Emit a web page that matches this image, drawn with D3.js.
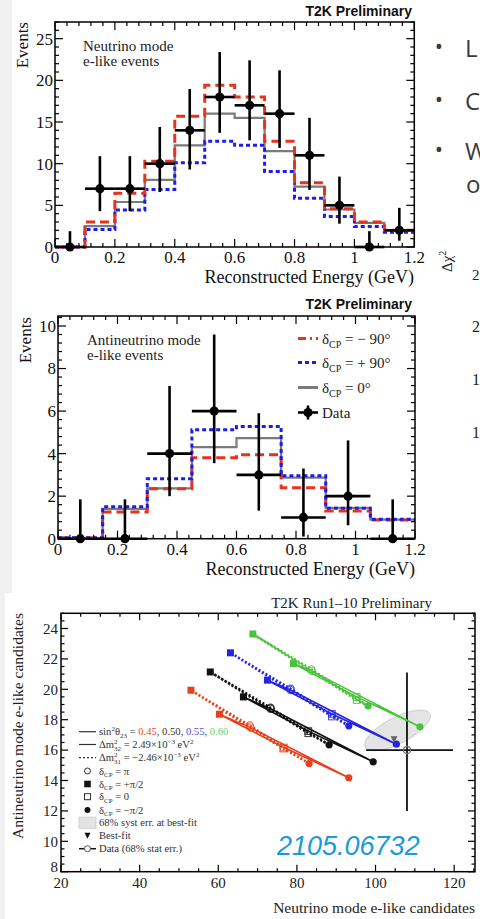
<!DOCTYPE html>
<html><head><meta charset="utf-8">
<script src="https://cdn.jsdelivr.net/npm/d3@7"></script>
<style>html,body{margin:0;padding:0;background:#fff;} svg{display:block}</style>
</head><body>
<script>
// ---------- Panel 1: neutrino mode e-like ----------
const nuEdges = [0,0.1,0.2,0.3,0.4,0.5,0.6,0.7,0.8,0.9,1.0,1.1,1.2];
const nuMinus90 = [0,3.0,6.45,10.3,15.7,19.4,18.0,12.7,7.7,4.6,3.0,2.0];
const nuPlus90  = [0,2.1,4.45,6.9,10.1,12.7,12.2,9.05,5.85,3.65,2.45,1.76];
const nuZero    = [0,2.5,5.4,8.05,12.2,16.0,15.5,11.5,7.25,4.5,2.9,2.0];
const nuData    = [0,7,7,10,14,18,17,16,11,5,0,2];
const nuDataLo  = [0,4.3,4.3,6.6,9.3,13.7,12.8,11.9,6.85,2.8,0,0.76];
const nuDataHi  = [1.9,10.9,10.9,14.4,18.95,23.4,22.4,21.2,15.5,8.45,1.9,4.7];
const nuXTicks = [0,0.2,0.4,0.6,0.8,1,1.2];
const nuYTicks = [0,5,10,15,20,25];

// ---------- Panel 2: antineutrino mode e-like ----------
const anuEdges = [0,0.15,0.3,0.45,0.6,0.75,0.9,1.05,1.2];
const anuMinus90 = [0.05,1.25,2.35,3.8,3.95,2.4,1.3,0.88];
const anuPlus90  = [0.05,1.5,2.82,5.12,5.28,2.96,1.43,0.91];
const anuZero    = [0.03,1.4,2.37,4.31,4.73,2.87,1.45,0.9];
const anuData    = [0,0,4,6,3,1,2,0];
const anuDataLo  = [0,0,2.0,3.55,1.32,0.1,0.63,0];
const anuDataHi  = [1.85,1.85,7.18,9.6,5.9,3.3,4.62,1.85];
const anuXTicks = [0,0.2,0.4,0.6,0.8,1,1.2];
const anuYTicks = [0,2,4,6,8,10];

// ---------- Panel 3: bi-probability ----------
// points per sin^2(theta23): [dCP=-pi/2, dCP=0, dCP=+pi/2, dCP=pi] as [nu, antinu]
const th23Labels = ["0.45","0.50","0.55","0.60"];
const th23Colors = ["#e8401c","#111111","#2525e0","#48c23a"];
const normalOrdering = [
  [[93.2,14.18],[76.7,16.17],[60.3,18.36],[68.2,17.48]],
  [[99.4,15.23],[82.9,17.25],[66.4,19.5],[73.3,18.72]],
  [[105.3,16.39],[88.9,18.38],[72.5,20.6],[78.4,19.95]],
  [[111.3,17.53],[95.2,19.5],[79.1,21.69],[83.7,21.21]]
];
const invertedOrdering = [
  [[83.1,15.12],[76.5,16.10],[53.05,19.94],[68.0,17.62]],
  [[88.2,16.35],[82.9,17.11],[57.97,21.14],[73.3,18.79]],
  [[93.2,17.6],[88.9,18.21],[63.1,22.4],[78.4,20.04]],
  [[98.1,18.9],[95.2,19.29],[68.8,23.64],[83.7,21.31]]
];
const obsData = [108, 16];
const obsXErr = [97.6, 119.7];
const obsYErr = [12.0, 21.1];
const bestFit = [104.7, 16.72];
const systCenter = [105.6, 17.3];
const systAxisA = [8.2, 1.1];
const systAxisB = [1.52, -0.76];
const biXTicks = [20,40,60,80,100,120];
const biYTicks = [8,10,12,14,16,18,20,22,24];

// ---------- drawing ----------
const serif = "'Liberation Serif','Times New Roman',serif";
const sans = "'Liberation Sans',Arial,sans-serif";
const svg = d3.select("body").append("svg").attr("width",480).attr("height",919);

svg.append("rect").attr("x",0).attr("y",0).attr("width",480).attr("height",919).attr("fill","#f1f1f1");
svg.append("rect").attr("x",12).attr("y",0).attr("width",468).attr("height",593).attr("fill","#fff");
svg.append("rect").attr("x",5).attr("y",593).attr("width",475).attr("height",326).attr("fill","#fff");

function frame(g, x, y, xTicks, xMinor, yTicks, yMinor, maj, min) {
  const [x0,x1] = x.range(), [y0,y1] = y.range();
  const t = g.append("g").attr("stroke","#000").attr("stroke-width",1.2);
  const xd = x.domain(), yd = y.domain();
  const xm = d3.range(xd[0], xd[1]+1e-9, xMinor).filter(v => !xTicks.some(M => Math.abs(M-v)<1e-6));
  const ym = d3.range(yd[0], yd[1]+1e-9, yMinor).filter(v => !yTicks.some(M => Math.abs(M-v)<1e-6));
  xTicks.forEach(v => { const px=x(v);
    t.append("line").attr("x1",px).attr("x2",px).attr("y1",y0).attr("y2",y0-maj);
    t.append("line").attr("x1",px).attr("x2",px).attr("y1",y1).attr("y2",y1+maj); });
  xm.forEach(v => { const px=x(v);
    t.append("line").attr("x1",px).attr("x2",px).attr("y1",y0).attr("y2",y0-min);
    t.append("line").attr("x1",px).attr("x2",px).attr("y1",y1).attr("y2",y1+min); });
  yTicks.forEach(v => { const py=y(v);
    t.append("line").attr("x1",x0).attr("x2",x0+maj).attr("y1",py).attr("y2",py);
    t.append("line").attr("x1",x1).attr("x2",x1-maj).attr("y1",py).attr("y2",py); });
  ym.forEach(v => { const py=y(v);
    t.append("line").attr("x1",x0).attr("x2",x0+min).attr("y1",py).attr("y2",py);
    t.append("line").attr("x1",x1).attr("x2",x1-min).attr("y1",py).attr("y2",py); });
  g.append("rect").attr("x",x0).attr("y",y1).attr("width",x1-x0).attr("height",y0-y1)
    .attr("fill","none").attr("stroke","#000").attr("stroke-width",1.5);
}

function hist(g, x, y, edges, vals, color, w, dash) {
  const pts = vals.map((v,i)=>[edges[i],v]);
  pts.push([edges[edges.length-1], vals[vals.length-1]]);
  g.append("path").attr("d", d3.line().x(d=>x(d[0])).y(d=>y(d[1])).curve(d3.curveStepAfter)(pts))
    .attr("fill","none").attr("stroke",color).attr("stroke-width",w)
    .attr("stroke-dasharray",dash||null);
}

function dataPoints(g, x, y, edges, vals, lo, hi) {
  vals.forEach((v,i) => {
    const cx = x((edges[i]+edges[i+1])/2);
    g.append("line").attr("x1",x(edges[i])).attr("x2",x(edges[i+1])).attr("y1",y(v)).attr("y2",y(v))
      .attr("stroke","#000").attr("stroke-width",2.6);
    g.append("line").attr("x1",cx).attr("x2",cx).attr("y1",y(lo[i])).attr("y2",y(hi[i]))
      .attr("stroke","#000").attr("stroke-width",2.6);
    g.append("circle").attr("cx",cx).attr("cy",y(v)).attr("r",4.6).attr("fill","#000");
  });
}

function fmt(v){ return String(v); }

function axisLabels(g, x, y, xTicks, yTicks, fs, yLabX, xLabY) {
  xTicks.forEach(v => g.append("text").attr("x",x(v)).attr("y",xLabY).attr("text-anchor","middle")
    .attr("font-family",serif).attr("font-size",fs).attr("fill","#111").text(fmt(v)));
  yTicks.forEach(v => g.append("text").attr("x",yLabX).attr("y",y(v)).attr("dy","0.35em").attr("text-anchor","end")
    .attr("font-family",serif).attr("font-size",fs).attr("fill","#111").text(fmt(v)));
}

// ===== Panel 1 =====
{
  const g = svg.append("g");
  const x = d3.scaleLinear().domain([0,1.2]).range([55,414.3]);
  const y = d3.scaleLinear().domain([0,27]).range([247,22]);
  hist(g,x,y,nuEdges,nuZero,"#7a7a7a",2.2);
  hist(g,x,y,nuEdges,nuPlus90,"#1c1cf0",3,"4,3");
  hist(g,x,y,nuEdges,nuMinus90,"#e8321e",3,"9,5");
  dataPoints(g,x,y,nuEdges,nuData,nuDataLo,nuDataHi);
  frame(g,x,y,nuXTicks,0.04,nuYTicks,1,8,4);
  axisLabels(g,x,y,nuXTicks,nuYTicks,17,53,263);
  g.append("text").attr("x",412).attr("y",16).attr("text-anchor","end").attr("font-family",sans)
    .attr("font-weight","bold").attr("font-size",14).attr("fill","#111").text("T2K Preliminary");
  g.append("text").attr("transform","translate(28,22) rotate(-90)").attr("text-anchor","end")
    .attr("font-family",serif).attr("font-size",17).attr("fill","#111").text("Events");
  g.append("text").attr("x",414).attr("y",283).attr("text-anchor","end").attr("font-family",serif)
    .attr("font-size",18).attr("fill","#111").text("Reconstructed Energy (GeV)");
  g.append("text").attr("x",83).attr("y",51).attr("font-family",serif).attr("font-size",15).attr("fill","#222").text("Neutrino mode");
  g.append("text").attr("x",83).attr("y",66).attr("font-family",serif).attr("font-size",15).attr("fill","#222").text("e-like events");
}

// ===== Panel 2 =====
{
  const g = svg.append("g");
  const x = d3.scaleLinear().domain([0,1.2]).range([58,415]);
  const y = d3.scaleLinear().domain([0,10.47]).range([538.7,316]);
  hist(g,x,y,anuEdges,anuZero,"#7a7a7a",2.2);
  hist(g,x,y,anuEdges,anuMinus90,"#e8321e",3,"9,5");
  hist(g,x,y,anuEdges,anuPlus90,"#1c1cf0",3,"4,3");
  dataPoints(g,x,y,anuEdges,anuData,anuDataLo,anuDataHi);
  frame(g,x,y,anuXTicks,0.04,anuYTicks,0.4,8,4);
  axisLabels(g,x,y,anuXTicks,anuYTicks,17,56,555);
  g.append("text").attr("x",412).attr("y",309).attr("text-anchor","end").attr("font-family",sans)
    .attr("font-weight","bold").attr("font-size",14).attr("fill","#111").text("T2K Preliminary");
  g.append("text").attr("transform","translate(31,317) rotate(-90)").attr("text-anchor","end")
    .attr("font-family",serif).attr("font-size",17).attr("fill","#111").text("Events");
  g.append("text").attr("x",415).attr("y",575).attr("text-anchor","end").attr("font-family",serif)
    .attr("font-size",18).attr("fill","#111").text("Reconstructed Energy (GeV)");
  g.append("text").attr("x",87).attr("y",345).attr("font-family",serif).attr("font-size",15).attr("fill","#222").text("Antineutrino mode");
  g.append("text").attr("x",87).attr("y",360).attr("font-family",serif).attr("font-size",15).attr("fill","#222").text("e-like events");
  // legend
  const leg = [
    {c:"#e8321e",d:"8,4,2,4",val:" = \u2212 90\u00b0"},
    {c:"#1c1cf0",d:"4,3",val:" = + 90\u00b0"},
    {c:"#7a7a7a",d:null,val:" = 0\u00b0"}
  ];
  const rows = [338.5,362.5,387.5,412.5];
  leg.forEach((L,i) => {
    g.append("line").attr("x1",298).attr("x2",318).attr("y1",rows[i]).attr("y2",rows[i])
      .attr("stroke",L.c).attr("stroke-width",3).attr("stroke-dasharray",L.d);
    const t = g.append("text").attr("x",322).attr("y",rows[i]+5).attr("font-family",serif).attr("font-size",15).attr("fill","#222");
    t.append("tspan").text("\u03b4");
    t.append("tspan").attr("font-size",10).attr("dy",4).text("CP");
    t.append("tspan").attr("dy",-4).text(L.val);
  });
  g.append("line").attr("x1",298).attr("x2",318).attr("y1",rows[3]).attr("y2",rows[3]).attr("stroke","#000").attr("stroke-width",2.6);
  g.append("line").attr("x1",308).attr("x2",308).attr("y1",rows[3]-7).attr("y2",rows[3]+7).attr("stroke","#000").attr("stroke-width",2.6);
  g.append("circle").attr("cx",308).attr("cy",rows[3]).attr("r",4.6).attr("fill","#000");
  g.append("text").attr("x",322).attr("y",rows[3]+5).attr("font-family",serif).attr("font-size",15).attr("fill","#222").text("Data");
}

// ===== Right-hand slide fragments =====
{
  const g = svg.append("g").attr("font-family","'Open Sans',sans-serif").attr("fill","#3a3a3a");
  [[57,"L"],[110,"C"],[160,"W"]].forEach(([yy,ch]) => {
    g.append("text").attr("x",439).attr("y",yy-3).attr("text-anchor","middle").attr("font-size",22).text("\u2022");
    g.append("text").attr("x",465).attr("y",yy).attr("font-size",24).text(ch);
  });
  g.append("text").attr("x",466).attr("y",193).attr("font-size",24).text("o");
  const s = svg.append("g").attr("font-family",serif).attr("fill","#222");
  const dc = s.append("text").attr("transform","translate(452,272) rotate(-90)").attr("font-size",15);
  dc.append("tspan").text("\u0394\u03c7");
  dc.append("tspan").attr("font-size",10).attr("dy",-6).text("2");
  s.append("text").attr("x",472).attr("y",280).attr("font-size",15).text("2");
  s.append("text").attr("x",472).attr("y",332).attr("font-size",16).text("2");
  s.append("text").attr("x",472).attr("y",385).attr("font-size",16).text("1");
  s.append("text").attr("x",472).attr("y",438).attr("font-size",16).text("1");
}

// ===== Panel 3 =====
{
  const g = svg.append("g");
  const x = d3.scaleLinear().domain([20,125.3]).range([61,475]);
  const y = d3.scaleLinear().domain([8,25]).range([871.7,613.3]);
  // syst ellipse
  const ell = d3.range(0, 2*Math.PI, Math.PI/60).map(t => [
    systCenter[0] + systAxisA[0]*Math.cos(t) + systAxisB[0]*Math.sin(t),
    systCenter[1] + systAxisA[1]*Math.cos(t) + systAxisB[1]*Math.sin(t)]);
  g.append("path").attr("d", d3.line().x(d=>x(d[0])).y(d=>y(d[1])).curve(d3.curveLinearClosed)(ell))
    .attr("fill","#e4e4e4").attr("stroke","#cccccc").attr("stroke-width",1);
  // data error bars
  g.append("line").attr("x1",x(obsXErr[0])).attr("x2",x(obsXErr[1])).attr("y1",y(obsData[1])).attr("y2",y(obsData[1]))
    .attr("stroke","#111").attr("stroke-width",1.8);
  g.append("line").attr("x1",x(obsData[0])).attr("x2",x(obsData[0])).attr("y1",y(obsYErr[0])).attr("y2",y(obsYErr[1]))
    .attr("stroke","#111").attr("stroke-width",1.8);
  const closed = d3.line().x(d=>x(d[0])).y(d=>y(d[1])).curve(d3.curveLinearClosed);
  // inverted ordering (dotted)
  invertedOrdering.forEach((pts,i) => {
    g.append("path").attr("d",closed(pts)).attr("fill","none").attr("stroke",th23Colors[i])
      .attr("stroke-width",2.4).attr("stroke-dasharray","2,2");
  });
  // normal ordering (solid)
  normalOrdering.forEach((pts,i) => {
    g.append("path").attr("d",closed(pts)).attr("fill","none").attr("stroke",th23Colors[i]).attr("stroke-width",1.6);
  });
  function markers(pts, c) {
    // -pi/2 filled circle, 0 open square, +pi/2 filled square, pi open circle
    g.append("circle").attr("cx",x(pts[0][0])).attr("cy",y(pts[0][1])).attr("r",3.6).attr("fill",c);
    g.append("rect").attr("x",x(pts[1][0])-3.3).attr("y",y(pts[1][1])-3.3).attr("width",6.6).attr("height",6.6)
      .attr("fill","none").attr("stroke",c).attr("stroke-width",1.1).attr("opacity",0.8);
    g.append("rect").attr("x",x(pts[2][0])-3.5).attr("y",y(pts[2][1])-3.5).attr("width",7).attr("height",7).attr("fill",c);
    g.append("circle").attr("cx",x(pts[3][0])).attr("cy",y(pts[3][1])).attr("r",3.6)
      .attr("fill","none").attr("stroke",c).attr("stroke-width",1.1).attr("opacity",0.8);
  }
  invertedOrdering.forEach((p,i)=>markers(p,th23Colors[i]));
  normalOrdering.forEach((p,i)=>markers(p,th23Colors[i]));
  // best fit
  const bx = x(bestFit[0]), by = y(bestFit[1]);
  g.append("path").attr("d",`M${bx-3.5},${by-3} L${bx+3.5},${by-3} L${bx},${by+3.5} Z`).attr("fill","#666");
  g.append("circle").attr("cx",x(obsData[0])).attr("cy",y(obsData[1])).attr("r",3.6)
    .attr("fill","none").attr("stroke","#777").attr("stroke-width",1.3);

  frame(g,x,y,biXTicks,5,biYTicks,0.5,7,3.5);
  biXTicks.forEach(v => g.append("text").attr("x",x(v)).attr("y",888).attr("text-anchor","middle")
    .attr("font-family",serif).attr("font-size",15).attr("fill","#222").text(fmt(v)));
  biYTicks.forEach(v => g.append("text").attr("x",58).attr("y",y(v) - (v===8?5:0)).attr("dy","0.35em").attr("text-anchor","end")
    .attr("font-family",serif).attr("font-size",15).attr("fill","#222").text(fmt(v)));
  g.append("text").attr("x",432).attr("y",608).attr("text-anchor","end").attr("font-family",serif)
    .attr("font-size",15).attr("fill","#222").text("T2K Run1\u201310 Preliminary");
  g.append("text").attr("transform","translate(22.5,613) rotate(-90)").attr("text-anchor","end")
    .attr("font-family",serif).attr("font-size",15.5).attr("fill","#222").text("Antineutrino mode e-like candidates");
  g.append("text").attr("x",475).attr("y",913).attr("text-anchor","end").attr("font-family",serif)
    .attr("font-size",15.5).attr("fill","#222").text("Neutrino mode e-like candidates");

  // legend
  const lx0 = 79, lx1 = 96, mx = 87.5, tx = 99, fs = 10.6;
  const rows = [731.7,744.5,757.7,771,784,796.7,810,822.7,835.7,848.7];
  const lg = g.append("g").attr("font-family",serif).attr("font-size",fs).attr("fill","#333");
  function ltext(i){ return lg.append("text").attr("x",tx).attr("y",rows[i]+3.6); }
  lg.append("line").attr("x1",lx0).attr("x2",lx1).attr("y1",rows[0]).attr("y2",rows[0]).attr("stroke","#333").attr("stroke-width",1.2);
  lg.append("line").attr("x1",lx0).attr("x2",lx1).attr("y1",rows[1]).attr("y2",rows[1]).attr("stroke","#333").attr("stroke-width",1.2);
  lg.append("line").attr("x1",lx0).attr("x2",lx1).attr("y1",rows[2]).attr("y2",rows[2]).attr("stroke","#333").attr("stroke-width",1.2).attr("stroke-dasharray","2,2");
  let t = ltext(0);
  t.append("tspan").text("sin");
  t.append("tspan").attr("font-size",7).attr("dy",-4).text("2");
  t.append("tspan").attr("dy",4).text("\u03b8");
  t.append("tspan").attr("font-size",7).attr("dy",2.5).text("23");
  t.append("tspan").attr("dy",-2.5).text(" = ");
  const legCols = ["#f04a2a","#333","#5050e0","#6cd05c"];
  th23Labels.forEach((lab,i) => {
    t.append("tspan").attr("fill",legCols[i]).text(lab);
    if (i<3) t.append("tspan").text(", ");
  });
  t = ltext(1);
  t.append("tspan").text("\u0394m");
  t.append("tspan").attr("font-size",7).attr("dy",-4).text("2");
  t.append("tspan").attr("font-size",7).attr("dx",-3.5).attr("dy",6.5).text("32");
  t.append("tspan").attr("dy",-2.5).text(" = 2.49\u00d710");
  t.append("tspan").attr("font-size",7).attr("dy",-4).text("\u22123");
  t.append("tspan").attr("dy",4).text(" eV");
  t.append("tspan").attr("font-size",7).attr("dy",-4).text("2");
  t = ltext(2);
  t.append("tspan").text("\u0394m");
  t.append("tspan").attr("font-size",7).attr("dy",-4).text("2");
  t.append("tspan").attr("font-size",7).attr("dx",-3.5).attr("dy",6.5).text("31");
  t.append("tspan").attr("dy",-2.5).text(" = \u22122.46\u00d710");
  t.append("tspan").attr("font-size",7).attr("dy",-4).text("\u22123");
  t.append("tspan").attr("dy",4).text(" eV");
  t.append("tspan").attr("font-size",7).attr("dy",-4).text("2");
  const dlab = ["\u03c0","+\u03c0/2","0","\u2212\u03c0/2"];
  [3,4,5,6].forEach((r,k) => {
    const tt = ltext(r);
    tt.append("tspan").text("\u03b4");
    tt.append("tspan").attr("font-size",7).attr("dy",2.5).text("CP");
    tt.append("tspan").attr("dy",-2.5).text(" = " + dlab[k]);
  });
  lg.append("circle").attr("cx",mx).attr("cy",rows[3]).attr("r",3).attr("fill","none").attr("stroke","#333").attr("stroke-width",1);
  lg.append("rect").attr("x",mx-3.3).attr("y",rows[4]-3.3).attr("width",6.6).attr("height",6.6).attr("fill","#111");
  lg.append("rect").attr("x",mx-3).attr("y",rows[5]-3).attr("width",6).attr("height",6).attr("fill","none").attr("stroke","#333").attr("stroke-width",1);
  lg.append("circle").attr("cx",mx).attr("cy",rows[6]).attr("r",3).attr("fill","#111");
  lg.append("rect").attr("x",lx0).attr("y",rows[7]-5.5).attr("width",lx1-lx0).attr("height",11).attr("fill","#e4e4e4").attr("stroke","#d0d0d0");
  ltext(7).text("68% syst err. at best-fit");
  lg.append("path").attr("d",`M${mx-3},${rows[8]-3} L${mx+3},${rows[8]-3} L${mx},${rows[8]+3} Z`).attr("fill","#111");
  ltext(8).text("Best-fit");
  lg.append("line").attr("x1",lx0).attr("x2",lx1).attr("y1",rows[9]).attr("y2",rows[9]).attr("stroke","#111").attr("stroke-width",1.5);
  lg.append("circle").attr("cx",mx).attr("cy",rows[9]).attr("r",3).attr("fill","#fff").attr("stroke","#555").attr("stroke-width",1);
  ltext(9).text("Data (68% stat err.)");

  g.append("text").attr("x",277).attr("y",855).attr("font-family",sans).attr("font-style","italic")
    .attr("font-size",27).attr("fill","#1b9ad6").text("2105.06732");
}
</script>
</body></html>
